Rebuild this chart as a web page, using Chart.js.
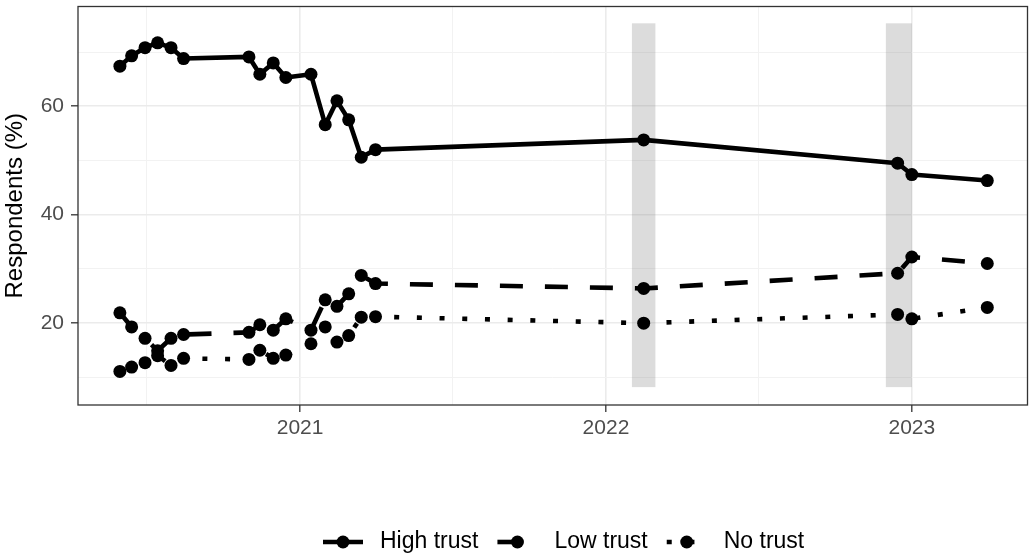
<!DOCTYPE html>
<html>
<head>
<meta charset="utf-8">
<title>Trust over time</title>
<script src="https://cdn.jsdelivr.net/npm/chart.js@4.4.1/dist/chart.umd.min.js"></script>
<style>
    html, body { margin: 0; padding: 0; background: #ffffff; }
    #trust-wrap { width: 1034px; height: 555px; }
</style>
</head>
<body>
<div id="trust-wrap"><canvas id="trust-chart" width="1034" height="555"></canvas></div>
<script>
/* ---- survey data ---- */
var surveyDates = [
    '2020-05-31', '2020-06-14', '2020-06-30', '2020-07-15', '2020-07-31', '2020-08-15',
    '2020-11-01', '2020-11-14', '2020-11-30', '2020-12-15',
    '2021-01-14', '2021-01-31', '2021-02-14', '2021-02-28', '2021-03-15', '2021-04-01',
    '2022-02-15', '2022-12-15', '2023-01-01', '2023-04-01'
];
var highTrust = [67.4, 69.3, 70.8, 71.7, 70.8, 68.8, 69.1, 65.9, 68.0, 65.3,
                 65.9, 56.6, 61.0, 57.5, 50.6, 52.0, 53.8, 49.5, 47.4, 46.3];
var lowTrust  = [21.9, 19.3, 17.2, 14.9, 17.2, 17.9, 18.3, 19.7, 18.7, 20.8,
                 18.7, 24.3, 23.1, 25.4, 28.8, 27.3, 26.4, 29.2, 32.2, 31.0];
var noTrust   = [11.1, 11.9, 12.7, 14.0, 12.2, 13.5, 13.3, 15.0, 13.5, 14.1,
                 16.2, 19.3, 16.5, 17.7, 21.1, 21.2, 20.0, 21.6, 20.8, 22.9];
var seriesNames = ['High trust', 'Low trust', 'No trust'];

/* shaded periods */
var shadeStart = ['2022-02-01', '2022-12-01'];
var shadeEnd   = ['2022-03-01', '2023-01-01'];
var shadeLow = 8.2;
var shadeHigh = 75.3;

/* axes */
var xTickDates  = ['2021-01-01', '2022-01-01', '2023-01-01'];
var xTickLabels = ['2021', '2022', '2023'];
var xMinorDates = ['2020-07-02', '2021-07-02', '2022-07-02'];
var xRange = ['2020-04-11', '2023-05-19'];
var yTicks = [20, 40, 60];
var yMinorTicks = [10, 30, 50, 70];
var yRange = [4.9, 78.4];

(function() {
    'use strict';

    var FONT = "'Liberation Sans', Arial, sans-serif";

    function toDay(s) {
        var p = s.split('-');
        return Date.UTC(+p[0], +p[1] - 1, +p[2]) / 86400000;
    }

    function points(values) {
        return values.map(function(v, i) {
            return { x: toDay(surveyDates[i]), y: v };
        });
    }

    var xMajor = xTickDates.map(toDay);
    var xMinor = xMinorDates.map(toDay);

    function isMajorX(v) { return xMajor.indexOf(v) !== -1; }
    function isMajorY(v) { return yTicks.indexOf(v) !== -1; }

    /* ---- grey shaded periods, drawn under the lines ---- */
    var shadePlugin = {
        id: 'shadePlugin',
        beforeDatasetsDraw: function(chart) {
            var ctx = chart.ctx;
            var xs = chart.scales.x, ys = chart.scales.y;
            ctx.save();
            ctx.fillStyle = 'rgba(127, 127, 127, 0.27)';
            shadeStart.forEach(function(s, i) {
                var x0 = xs.getPixelForValue(toDay(s));
                var x1 = xs.getPixelForValue(toDay(shadeEnd[i]));
                var y0 = ys.getPixelForValue(shadeHigh);
                var y1 = ys.getPixelForValue(shadeLow);
                ctx.fillRect(x0, y0, x1 - x0, y1 - y0);
            });
            ctx.restore();
        }
    };

    /* ---- panel border (theme_bw style) ---- */
    var borderPlugin = {
        id: 'borderPlugin',
        afterDatasetsDraw: function(chart) {
            var a = chart.chartArea;
            var ctx = chart.ctx;
            ctx.save();
            ctx.strokeStyle = '#333333';
            ctx.lineWidth = 1.3;
            ctx.strokeRect(a.left, a.top, a.right - a.left, a.bottom - a.top);
            ctx.restore();
        }
    };

    /* ---- bottom legend: line + point keys ---- */
    var legendPlugin = {
        id: 'legendPlugin',
        afterDraw: function(chart) {
            var ctx = chart.ctx;
            var x = 323, y = 542;
            ctx.save();
            ctx.font = '23px ' + FONT;
            chart.data.datasets.forEach(function(ds) {
                ctx.beginPath();
                ctx.setLineDash(ds.borderDash || []);
                ctx.lineDashOffset = 0;
                ctx.lineWidth = ds.borderWidth;
                ctx.strokeStyle = ds.borderColor;
                ctx.lineCap = 'butt';
                ctx.moveTo(x, y);
                ctx.lineTo(x + 40, y);
                ctx.stroke();
                ctx.setLineDash([]);

                ctx.beginPath();
                ctx.arc(x + 20, y, ds.pointRadius, 0, Math.PI * 2);
                ctx.fillStyle = ds.pointBackgroundColor;
                ctx.fill();

                ctx.fillStyle = '#000000';
                ctx.textAlign = 'left';
                ctx.textBaseline = 'middle';
                ctx.fillText(ds.label, x + 57, y);
                x += 57 + ctx.measureText(ds.label).width + 19;
            });
            ctx.restore();
        }
    };

    function lineSet(label, values, dash) {
        return {
            label: label,
            data: points(values),
            borderColor: '#000000',
            borderWidth: 4.6,
            borderDash: dash,
            borderCapStyle: 'butt',
            borderJoinStyle: 'round',
            tension: 0,
            fill: false,
            pointRadius: 6.5,
            pointHoverRadius: 6.5,
            pointBackgroundColor: '#000000',
            pointBorderWidth: 0
        };
    }

    var canvas = document.getElementById('trust-chart');
    new Chart(canvas, {
        type: 'line',
        data: {
            datasets: [
                lineSet(seriesNames[0], highTrust, []),
                lineSet(seriesNames[1], lowTrust, [23, 22]),
                lineSet(seriesNames[2], noTrust, [5, 17.7])
            ]
        },
        options: {
            responsive: false,
            animation: false,
            events: [],
            layout: { padding: { left: 0, right: 3, top: 4, bottom: 100 } },
            plugins: {
                legend: { display: false },
                tooltip: { enabled: false },
                title: { display: false }
            },
            scales: {
                x: {
                    type: 'linear',
                    min: toDay(xRange[0]),
                    max: toDay(xRange[1]),
                    afterBuildTicks: function(scale) {
                        scale.ticks = xMinor.concat(xMajor).sort(function(a, b) { return a - b; })
                            .map(function(v) { return { value: v }; });
                    },
                    afterFit: function(scale) {
                        scale.height = 50;
                        scale.paddingLeft = 0;
                        scale.paddingRight = 0;
                    },
                    border: { display: false },
                    grid: {
                        color: function(c) { return isMajorX(c.tick.value) ? '#ebebeb' : '#f2f2f2'; },
                        lineWidth: function(c) { return isMajorX(c.tick.value) ? 1.6 : 1.0; },
                        tickColor: function(c) { return isMajorX(c.tick.value) ? '#333333' : 'rgba(0,0,0,0)'; },
                        tickWidth: 1.3,
                        tickLength: 7,
                        drawTicks: true
                    },
                    ticks: {
                        autoSkip: false,
                        maxRotation: 0,
                        padding: 4,
                        color: '#4d4d4d',
                        font: { size: 21, family: FONT },
                        callback: function(value) {
                            var i = xMajor.indexOf(value);
                            return i === -1 ? '' : xTickLabels[i];
                        }
                    }
                },
                y: {
                    type: 'linear',
                    min: yRange[0],
                    max: yRange[1],
                    afterBuildTicks: function(scale) {
                        scale.ticks = yMinorTicks.concat(yTicks).sort(function(a, b) { return a - b; })
                            .map(function(v) { return { value: v }; });
                    },
                    afterFit: function(scale) {
                        scale.width = 78;
                        scale.paddingTop = 0;
                        scale.paddingBottom = 0;
                    },
                    border: { display: false },
                    grid: {
                        color: function(c) { return isMajorY(c.tick.value) ? '#ebebeb' : '#f2f2f2'; },
                        lineWidth: function(c) { return isMajorY(c.tick.value) ? 1.6 : 1.0; },
                        tickColor: function(c) { return isMajorY(c.tick.value) ? '#333333' : 'rgba(0,0,0,0)'; },
                        tickWidth: 1.3,
                        tickLength: 7,
                        drawTicks: true
                    },
                    title: {
                        display: true,
                        text: 'Respondents (%)',
                        color: '#000000',
                        font: { size: 24, family: FONT },
                        padding: { top: 1, bottom: 0 }
                    },
                    ticks: {
                        autoSkip: false,
                        padding: 7,
                        color: '#4d4d4d',
                        font: { size: 21, family: FONT },
                        callback: function(value) {
                            return isMajorY(value) ? String(value) : '';
                        }
                    }
                }
            }
        },
        plugins: [shadePlugin, borderPlugin, legendPlugin]
    });
})();
</script>
</body>
</html>
